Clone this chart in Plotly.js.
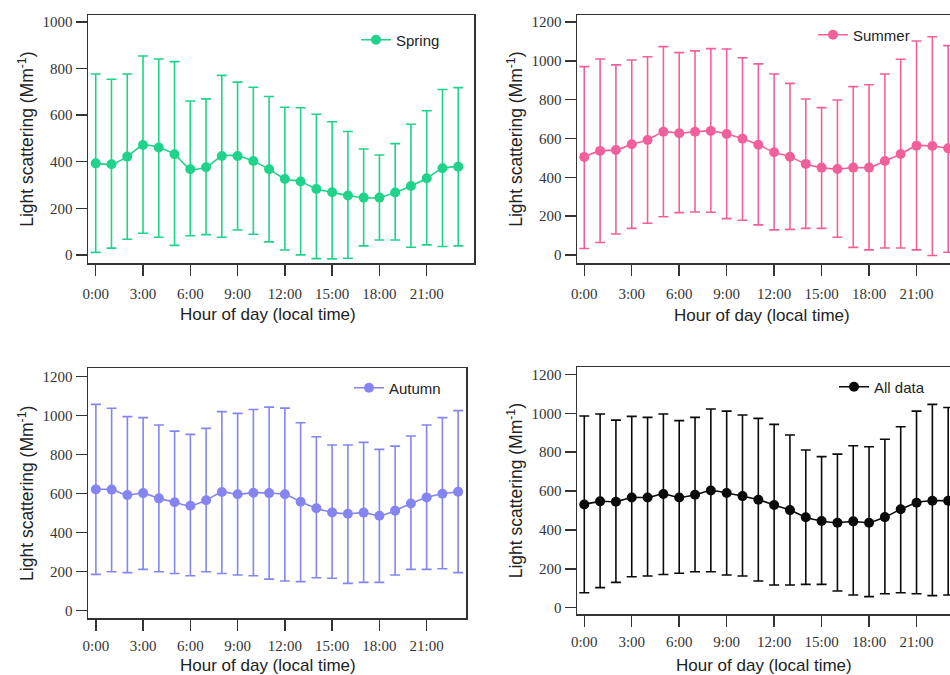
<!DOCTYPE html>
<html>
<head>
<meta charset="utf-8">
<script src="https://cdn.plot.ly/plotly-3.0.1.min.js"></script>
<style>
  html, body { margin: 0; padding: 0; background: #ffffff; overflow: hidden; width: 950px; height: 675px; }
  #chart { width: 970px; height: 675px; }
</style>
</head>
<body>
<div id="chart"></div>
<script>
// ---- data ----
const hours = [0,1,2,3,4,5,6,7,8,9,10,11,12,13,14,15,16,17,18,19,20,21,22,23];
const tickHours = [0,3,6,9,12,15,18,21];
const tickLabels = ['0:00','3:00','6:00','9:00','12:00','15:00','18:00','21:00'];

const springMean  = [393,389,422,472,461,432,368,376,425,425,403,368,326,315,283,269,255,246,246,268,296,329,372,379];
const springUpper = [777,754,777,854,841,830,661,670,771,742,720,680,634,632,604,572,530,455,429,478,561,619,710,718];
const springLower = [11,29,67,93,76,41,82,87,76,107,89,56,21,0,-16,-17,-14,39,64,64,33,43,36,39];

const summerMean  = [505,536,541,570,592,635,627,635,639,623,599,568,529,506,469,450,443,450,450,484,520,563,561,549];
const summerUpper = [970,1009,979,1004,1021,1073,1042,1051,1063,1061,1016,984,932,884,803,759,798,867,877,932,1008,1102,1124,1078];
const summerLower = [33,64,108,137,163,197,218,221,220,187,179,155,129,132,137,137,91,39,26,36,36,26,-3,14];

const autumnMean  = [622,621,593,603,576,556,538,566,609,597,605,603,597,559,525,504,497,503,487,513,550,581,600,610];
const autumnUpper = [1058,1038,995,990,952,921,904,935,1021,1012,1032,1044,1039,964,892,850,850,863,827,844,896,952,990,1026];
const autumnLower = [186,200,195,212,200,191,179,200,191,183,179,162,152,149,169,166,140,145,145,183,212,212,215,195];

const allMean  = [531,547,545,567,567,585,567,581,603,590,574,555,528,502,465,446,437,444,437,466,506,540,550,550];
const allUpper = [986,996,965,984,979,996,962,979,1022,1011,991,974,943,888,811,777,790,833,828,866,931,1011,1046,1030];
const allLower = [77,103,130,159,163,171,177,185,185,168,163,137,117,117,120,120,86,65,57,72,77,72,62,65];

const seriesNames = ['Spring','Summer','Autumn','All data'];
const seriesColors = ['#1fd38a','#f2609c','#8585f2','#0a0a0a'];
const xTitleText = 'Hour of day (local time)';
const yTitleText = 'Light scattering (Mm<sup>-1</sup>)';

// ---- helpers ----
function diff(a, b) { return a.map((v, i) => v - b[i]); }

const means  = [springMean, summerMean, autumnMean, allMean];
const uppers = [springUpper, summerUpper, autumnUpper, allUpper];
const lowers = [springLower, summerLower, autumnLower, allLower];

const W = 970, H = 675;
// panel frames in pixels [left, right, top, bottom]
const frames = [
  [88, 474, 15, 263.3],
  [577, 964, 15, 263.3],
  [88, 466, 368.3, 618.3],
  [577, 964, 367, 614.3]
];
const xRanges = [[-0.49, 24.0], [-0.46, 24.0], [-0.5, 23.5], [-0.46, 24.0]];
const yRanges = [[-36, 1030], [-43, 1236], [-39, 1243], [-34, 1238]];
const legendPos = [[356, 40], [813, 35], [349, 388], [834, 387]];
const xTitlePos = [[268, 314], [762, 315], [268, 665], [764, 665]];
const labelStandoff = [5, 5, 2, 2];

const traces = [];
const annotations = [];
const layout = {
  width: W, height: H,
  margin: {l: 0, r: 0, t: 0, b: 0},
  paper_bgcolor: '#ffffff',
  plot_bgcolor: '#ffffff',
  font: {family: 'Liberation Sans, Arial, sans-serif', color: '#222'}
};

for (let k = 0; k < 4; k++) {
  const sfx = k === 0 ? '' : String(k + 1);
  const f = frames[k];
  traces.push({
    type: 'scatter',
    mode: 'lines+markers',
    name: seriesNames[k],
    x: hours,
    y: means[k],
    xaxis: 'x' + sfx,
    yaxis: 'y' + sfx,
    legend: 'legend' + sfx,
    line: {color: seriesColors[k], width: 1.6, shape: 'spline', smoothing: 0.6},
    marker: {color: seriesColors[k], size: 10},
    error_y: {
      type: 'data', symmetric: false,
      array: diff(uppers[k], means[k]),
      arrayminus: diff(means[k], lowers[k]),
      color: seriesColors[k], thickness: 1.6, width: 5
    },
    cliponaxis: true
  });
  layout['xaxis' + sfx] = {
    domain: [f[0] / W, f[1] / W],
    anchor: 'y' + sfx,
    range: xRanges[k],
    tickvals: tickHours, ticktext: tickLabels,
    ticks: 'outside', ticklen: 11, tickwidth: 1.5, tickcolor: '#333',
    ticklabelstandoff: labelStandoff[k],
    showline: true, linecolor: '#333', linewidth: 1.5, mirror: true,
    showgrid: false, zeroline: false,
    tickfont: {family: 'Liberation Serif, Times New Roman, serif', size: 15, color: '#333'},
    automargin: false
  };
  layout['yaxis' + sfx] = {
    domain: [1 - f[3] / H, 1 - f[2] / H],
    anchor: 'x' + sfx,
    range: yRanges[k],
    dtick: 200, tick0: 0,
    ticks: 'outside', ticklen: 11, tickwidth: 1.5, tickcolor: '#333',
    showline: true, linecolor: '#333', linewidth: 1.5, mirror: true,
    showgrid: false, zeroline: false,
    tickfont: {family: 'Liberation Serif, Times New Roman, serif', size: 15, color: '#333'},
    title: {text: yTitleText, font: {family: 'Liberation Sans, Arial, sans-serif', size: 17.5, color: '#222'}, standoff: 4},
    automargin: false
  };
  const tp = xTitlePos[k];
  annotations.push({
    xref: 'paper', yref: 'paper',
    x: tp[0] / W, y: 1 - tp[1] / H,
    xanchor: 'center', yanchor: 'middle',
    text: xTitleText, showarrow: false,
    font: {family: 'Liberation Sans, Arial, sans-serif', size: 17, color: '#222'}
  });
  const lp = legendPos[k];
  layout['legend' + sfx] = {
    x: lp[0] / W, y: 1 - lp[1] / H,
    xanchor: 'left', yanchor: 'middle',
    bgcolor: 'rgba(255,255,255,0)', borderwidth: 0,
    font: {family: 'Liberation Sans, Arial, sans-serif', size: 15, color: '#222'},
    itemwidth: 30
  };
}
layout.annotations = annotations;
layout.showlegend = true;

Plotly.newPlot('chart', traces, layout, {displayModeBar: false, staticPlot: true});
</script>
</body>
</html>
